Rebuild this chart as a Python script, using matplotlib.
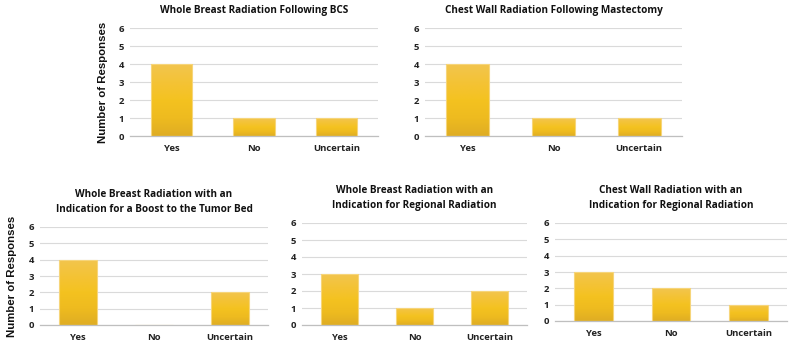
"""Survey responses on radiation indications, five small bar panels."""

import matplotlib

matplotlib.use("Agg")
import matplotlib.pyplot as plt
import numpy as np
from matplotlib.colors import LinearSegmentedColormap

categories = ["Yes", "No", "Uncertain"]

titles = [
    "Whole Breast Radiation Following BCS",
    "Chest Wall Radiation Following Mastectomy",
    "Whole Breast Radiation with an\nIndication for a Boost to the Tumor Bed",
    "Whole Breast Radiation with an\nIndication for Regional Radiation",
    "Chest Wall Radiation with an\nIndication for Regional Radiation",
]

wbr_bcs = [4, 1, 1]
cw_mastectomy = [4, 1, 1]
wbr_boost = [4, 0, 2]
wbr_regional = [3, 1, 2]
cw_regional = [3, 2, 1]

panel_values = [wbr_bcs, cw_mastectomy, wbr_boost, wbr_regional, cw_regional]
y_ticks = [0, 1, 2, 3, 4, 5, 6]

# axes boxes in pixels: left, right, top (y=6), bottom (y=0)
W, H = 791, 344
boxes = [
    (130, 378, 28, 136),
    (425, 682, 28, 136),
    (40, 268, 227, 325),
    (302, 527, 223, 325),
    (555, 787, 223, 321),
]
# right edge (px) of the rotated y label, only on the left-hand panels
ylabel_panels = {0: 108, 2: 17}

gold = LinearSegmentedColormap.from_list(
    "gold", ["#dfad24", "#eebb1f", "#f4c220", "#f4c336", "#f2c54e"]
)
grad = np.linspace(0, 1, 128).reshape(-1, 1)

fig = plt.figure(figsize=(W / 100, H / 100), dpi=100)

for i, (vals, title) in enumerate(zip(panel_values, titles)):
    x0, x1, yt, yb = boxes[i]
    ax = fig.add_axes([x0 / W, 1 - yb / H, (x1 - x0) / W, (yb - yt) / H])
    x = np.arange(len(categories))
    bars = ax.bar(x, vals, width=0.5, facecolor="none",
                  edgecolor="#f6d57a", linewidth=0.8, zorder=3)
    for b in bars:
        if b.get_height() <= 0:
            continue
        bx, by = b.get_x(), b.get_y()
        im = ax.imshow(grad, extent=[bx, bx + b.get_width(), by, by + b.get_height()],
                       origin="lower", aspect="auto", cmap=gold, zorder=2)
        im.set_clip_path(b)

    ax.set_xlim(-0.5, 2.5)
    ax.set_ylim(0, 6)
    ax.set_yticks(y_ticks)
    ax.set_xticks(x)
    ax.set_xticklabels(categories)
    ax.grid(axis="y", color="#dadada", linewidth=0.8, zorder=0)
    ax.set_axisbelow(True)
    for s in ("top", "right", "left"):
        ax.spines[s].set_visible(False)
    ax.spines["bottom"].set_color("#bfbfbf")
    ax.spines["bottom"].set_linewidth(0.9)
    ax.tick_params(length=0, labelsize=6.8, colors="#222222", pad=4)
    for lbl in ax.get_xticklabels() + ax.get_yticklabels():
        lbl.set_family("Open Sans")
        lbl.set_fontweight("bold")
    ax.tick_params(axis="x", pad=6)

    ax.text(0.5, 1.0 + 12 / (yb - yt), title, transform=ax.transAxes,
            ha="center", va="bottom", fontsize=7.2, fontweight="bold",
            family="Open Sans", linespacing=1.5, color="#111111")

    if i in ylabel_panels:
        ax.set_ylabel("Number of Responses", fontsize=8.2, fontweight="bold",
                      family="Liberation Sans", color="#111111")
        ax.yaxis.set_label_coords((ylabel_panels[i] - x0) / (x1 - x0), 0.5)

fig.savefig("out.png", dpi=100)
